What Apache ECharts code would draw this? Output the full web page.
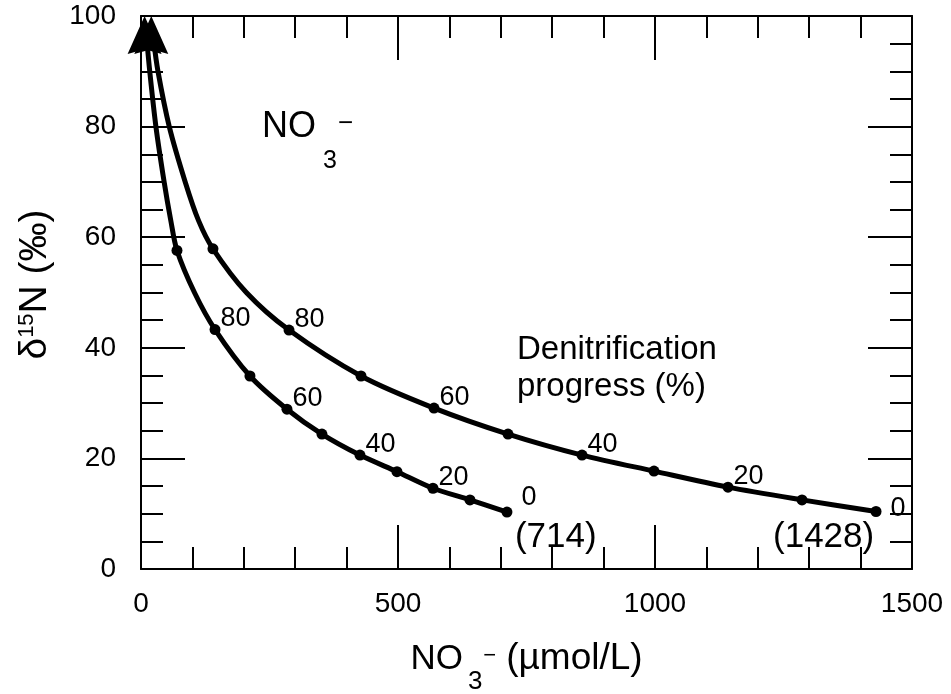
<!DOCTYPE html>
<html>
<head>
<meta charset="utf-8">
<script src="https://cdn.jsdelivr.net/npm/echarts@6/dist/echarts.min.js"></script>
<style>
  html, body { margin: 0; padding: 0; background: #fff; }
  #chart { width: 951px; height: 694px; }
</style>
</head>
<body>
<div id="chart"></div>
<script>
// ---- data ----
// Markers every 10 % of denitrification progress, from 0 % (start) to 90 %
const progressLabels = ['0', '', '20', '', '40', '', '60', '', '80', ''];

// Curve with initial nitrate 714 µmol/L: markers
const markAX = [712, 640, 568, 498, 426, 352, 284, 212, 144, 70];
const markAY = [10.3, 12.5, 14.6, 17.6, 20.6, 24.4, 28.9, 34.9, 43.3, 57.6];
// ... and the traced curve through them up to the arrow
const pathAX = [712, 640, 568, 498, 426, 352, 284, 212, 144, 104, 70, 58, 45, 29, 17, 11];
const pathAY = [10.3, 12.5, 14.6, 17.6, 20.6, 24.4, 28.9, 34.9, 43.3, 50, 57.6, 63, 70, 80, 90, 96];

// Curve with initial nitrate 1428 µmol/L: markers
const markBX = [1430, 1286, 1142, 998, 858, 714, 570, 428, 288, 140];
const markBY = [10.4, 12.5, 14.8, 17.7, 20.6, 24.4, 29.1, 34.9, 43.2, 57.9];
// ... and the traced curve
const pathBX = [1430, 1286, 1142, 998, 858, 714, 570, 428, 288, 205, 140, 112, 86, 55, 33, 24];
const pathBY = [10.4, 12.5, 14.8, 17.7, 20.6, 24.4, 29.1, 34.9, 43.2, 50, 57.9, 63, 70, 80, 90, 96];

// Arrow tips (curves continue towards very high δ15N)
const arrowTipX = [7, 20];
const arrowTipY = [100, 100];

// Start-value annotations
const startLabels = ['(714)', '(1428)'];

const xTicks = [0, 500, 1000, 1500];
const yTicks = [0, 20, 40, 60, 80, 100];

// ---- chart ----
const FONT = 'Liberation Sans, Arial, Helvetica, sans-serif';
const chart = echarts.init(document.getElementById('chart'), null, { renderer: 'canvas' });

function zip(xs, ys) { return xs.map((x, i) => [x, ys[i]]); }

function markerData(xs, ys, first) {
  return xs.map((x, i) => {
    const item = { value: [x, ys[i]] };
    const txt = progressLabels[i];
    if (txt) {
      item.label = { show: true, formatter: txt, position: [11, -19], color: '#000', fontSize: 27, fontFamily: FONT };
      if (i === 0) {
        item.label.position = first ? [20, -22] : [20, -11];
      }
    }
    return item;
  });
}

function baseAxis(extra) {
  return Object.assign({
    type: 'value',
    axisLine: { show: true, onZero: false, lineStyle: { color: '#000', width: 2 } },
    axisTick: { show: true, inside: true, length: 44, lineStyle: { color: '#000', width: 2 } },
    splitLine: { show: false },
    minorSplitLine: { show: false },
    axisLabel: { color: '#000', fontSize: 28, fontFamily: FONT, formatter: v => String(v) }
  }, extra);
}

const xMin = xTicks[0], xMax = xTicks[xTicks.length - 1];
const yMin = yTicks[0], yMax = yTicks[yTicks.length - 1];
const xMinor = { show: true, splitNumber: 5, length: 22, lineStyle: { color: '#000', width: 2 } };
const yMinor = { show: true, splitNumber: 4, length: 22, lineStyle: { color: '#000', width: 2 } };

const option = {
  backgroundColor: '#fff',
  animation: false,
  textStyle: { fontFamily: FONT, color: '#000' },
  grid: { left: 141, right: 39, top: 16, bottom: 125, containLabel: false, outerBoundsMode: 'none' },
  xAxis: [
    baseAxis({
      min: xMin, max: xMax, interval: xTicks[1] - xTicks[0], position: 'bottom',
      minorTick: xMinor,
      axisLabel: { color: '#000', fontSize: 28, fontFamily: FONT, margin: 21, formatter: v => String(v) },
      name: '{n|NO}{sub|3}{sup|\u2212}{u|(\u00b5mol/L)}',
      nameLocation: 'middle',
      nameGap: 54,
      nameTextStyle: {
        color: '#000', fontSize: 35, fontFamily: FONT, lineHeight: 72,
        rich: {
          n: { fontSize: 35, lineHeight: 72, fontFamily: FONT, color: '#000' },
          sub: { fontSize: 26, lineHeight: 26, verticalAlign: 'bottom', padding: [0, 0, 0, 5], fontFamily: FONT, color: '#000' },
          sup: { fontSize: 22, lineHeight: 22, padding: [0, 0, 6, 1], fontFamily: FONT, color: '#000' },
          u: { fontSize: 37, lineHeight: 72, padding: [0, 0, 0, 10], fontFamily: FONT, color: '#000' }
        }
      }
    }),
    baseAxis({
      min: xMin, max: xMax, interval: xTicks[1] - xTicks[0], position: 'top',
      minorTick: xMinor,
      axisLabel: { show: false }
    })
  ],
  yAxis: [
    baseAxis({
      min: yMin, max: yMax, interval: yTicks[1] - yTicks[0], position: 'left',
      minorTick: yMinor,
      axisLabel: { color: '#000', fontSize: 28, fontFamily: FONT, margin: 25, formatter: v => String(v) },
      name: '\u03b4{sup|15}N (\u2030)',
      nameLocation: 'middle',
      nameGap: 86,
      nameRotate: 90,
      nameTextStyle: {
        color: '#000', fontSize: 39, fontFamily: FONT, lineHeight: 40,
        padding: [0, 0, 0, 16],
        rich: {
          sup: { fontSize: 22, lineHeight: 20, padding: [0, 0, 16, 0], fontFamily: FONT, color: '#000' }
        }
      }
    }),
    baseAxis({
      min: yMin, max: yMax, interval: yTicks[1] - yTicks[0], position: 'right',
      minorTick: yMinor,
      axisLabel: { show: false }
    })
  ],
  series: [
    {
      type: 'line', xAxisIndex: 0, yAxisIndex: 0,
      data: zip(pathAX, pathAY),
      smooth: 0.3, showSymbol: false, clip: false,
      lineStyle: { color: '#000', width: 5 }
    },
    {
      type: 'line', xAxisIndex: 0, yAxisIndex: 0,
      data: zip(pathBX, pathBY),
      smooth: 0.3, showSymbol: false, clip: false,
      lineStyle: { color: '#000', width: 5 }
    },
    {
      type: 'scatter', xAxisIndex: 0, yAxisIndex: 0,
      symbol: 'circle', symbolSize: 11,
      itemStyle: { color: '#000', opacity: 1 },
      data: markerData(markAX, markAY, true)
    },
    {
      type: 'scatter', xAxisIndex: 0, yAxisIndex: 0,
      symbol: 'circle', symbolSize: 11,
      itemStyle: { color: '#000', opacity: 1 },
      data: markerData(markBX, markBY, false)
    },
    {
      type: 'scatter', xAxisIndex: 0, yAxisIndex: 0, clip: false,
      symbol: 'path://M20,0 L40,40 L20,35 L0,40 Z',
      symbolSize: [34, 38],
      symbolOffset: [0, '50%'],
      itemStyle: { color: '#000', opacity: 1 },
      data: zip(arrowTipX, arrowTipY)
    },
    {
      type: 'scatter', xAxisIndex: 0, yAxisIndex: 0, clip: false,
      symbolSize: 0, itemStyle: { color: '#000', opacity: 1 },
      label: { show: true, color: '#000', fontSize: 35, fontFamily: FONT },
      data: [
        { value: [markAX[0], markAY[0]], label: { formatter: startLabels[0], position: [8, 8], color: '#000' } },
        { value: [markBX[0], markBY[0]], label: { formatter: startLabels[1], position: [-103, 8], color: '#000' } }
      ]
    }
  ],
  graphic: [
    {
      type: 'text', left: 262, top: 80,
      style: {
        text: '{n|NO}{sub|3}{sup|\u2212}',
        fontSize: 36, fontFamily: FONT, fill: '#000', lineHeight: 94,
        rich: {
          n: { fontSize: 36, lineHeight: 94, fontFamily: FONT, fill: '#000' },
          sub: { fontSize: 25, lineHeight: 26, verticalAlign: 'bottom', padding: [0, 0, 0, 7], fontFamily: FONT, fill: '#000' },
          sup: { fontSize: 26, lineHeight: 24, padding: [0, 0, 6, 1], fontFamily: FONT, fill: '#000' }
        }
      }
    },
    {
      type: 'text', left: 517, top: 331,
      style: {
        text: 'Denitrification\nprogress (%)',
        fontSize: 33, fontFamily: FONT, fill: '#000', lineHeight: 37, align: 'left'
      }
    }
  ]
};
chart.setOption(option);
</script>
</body>
</html>
